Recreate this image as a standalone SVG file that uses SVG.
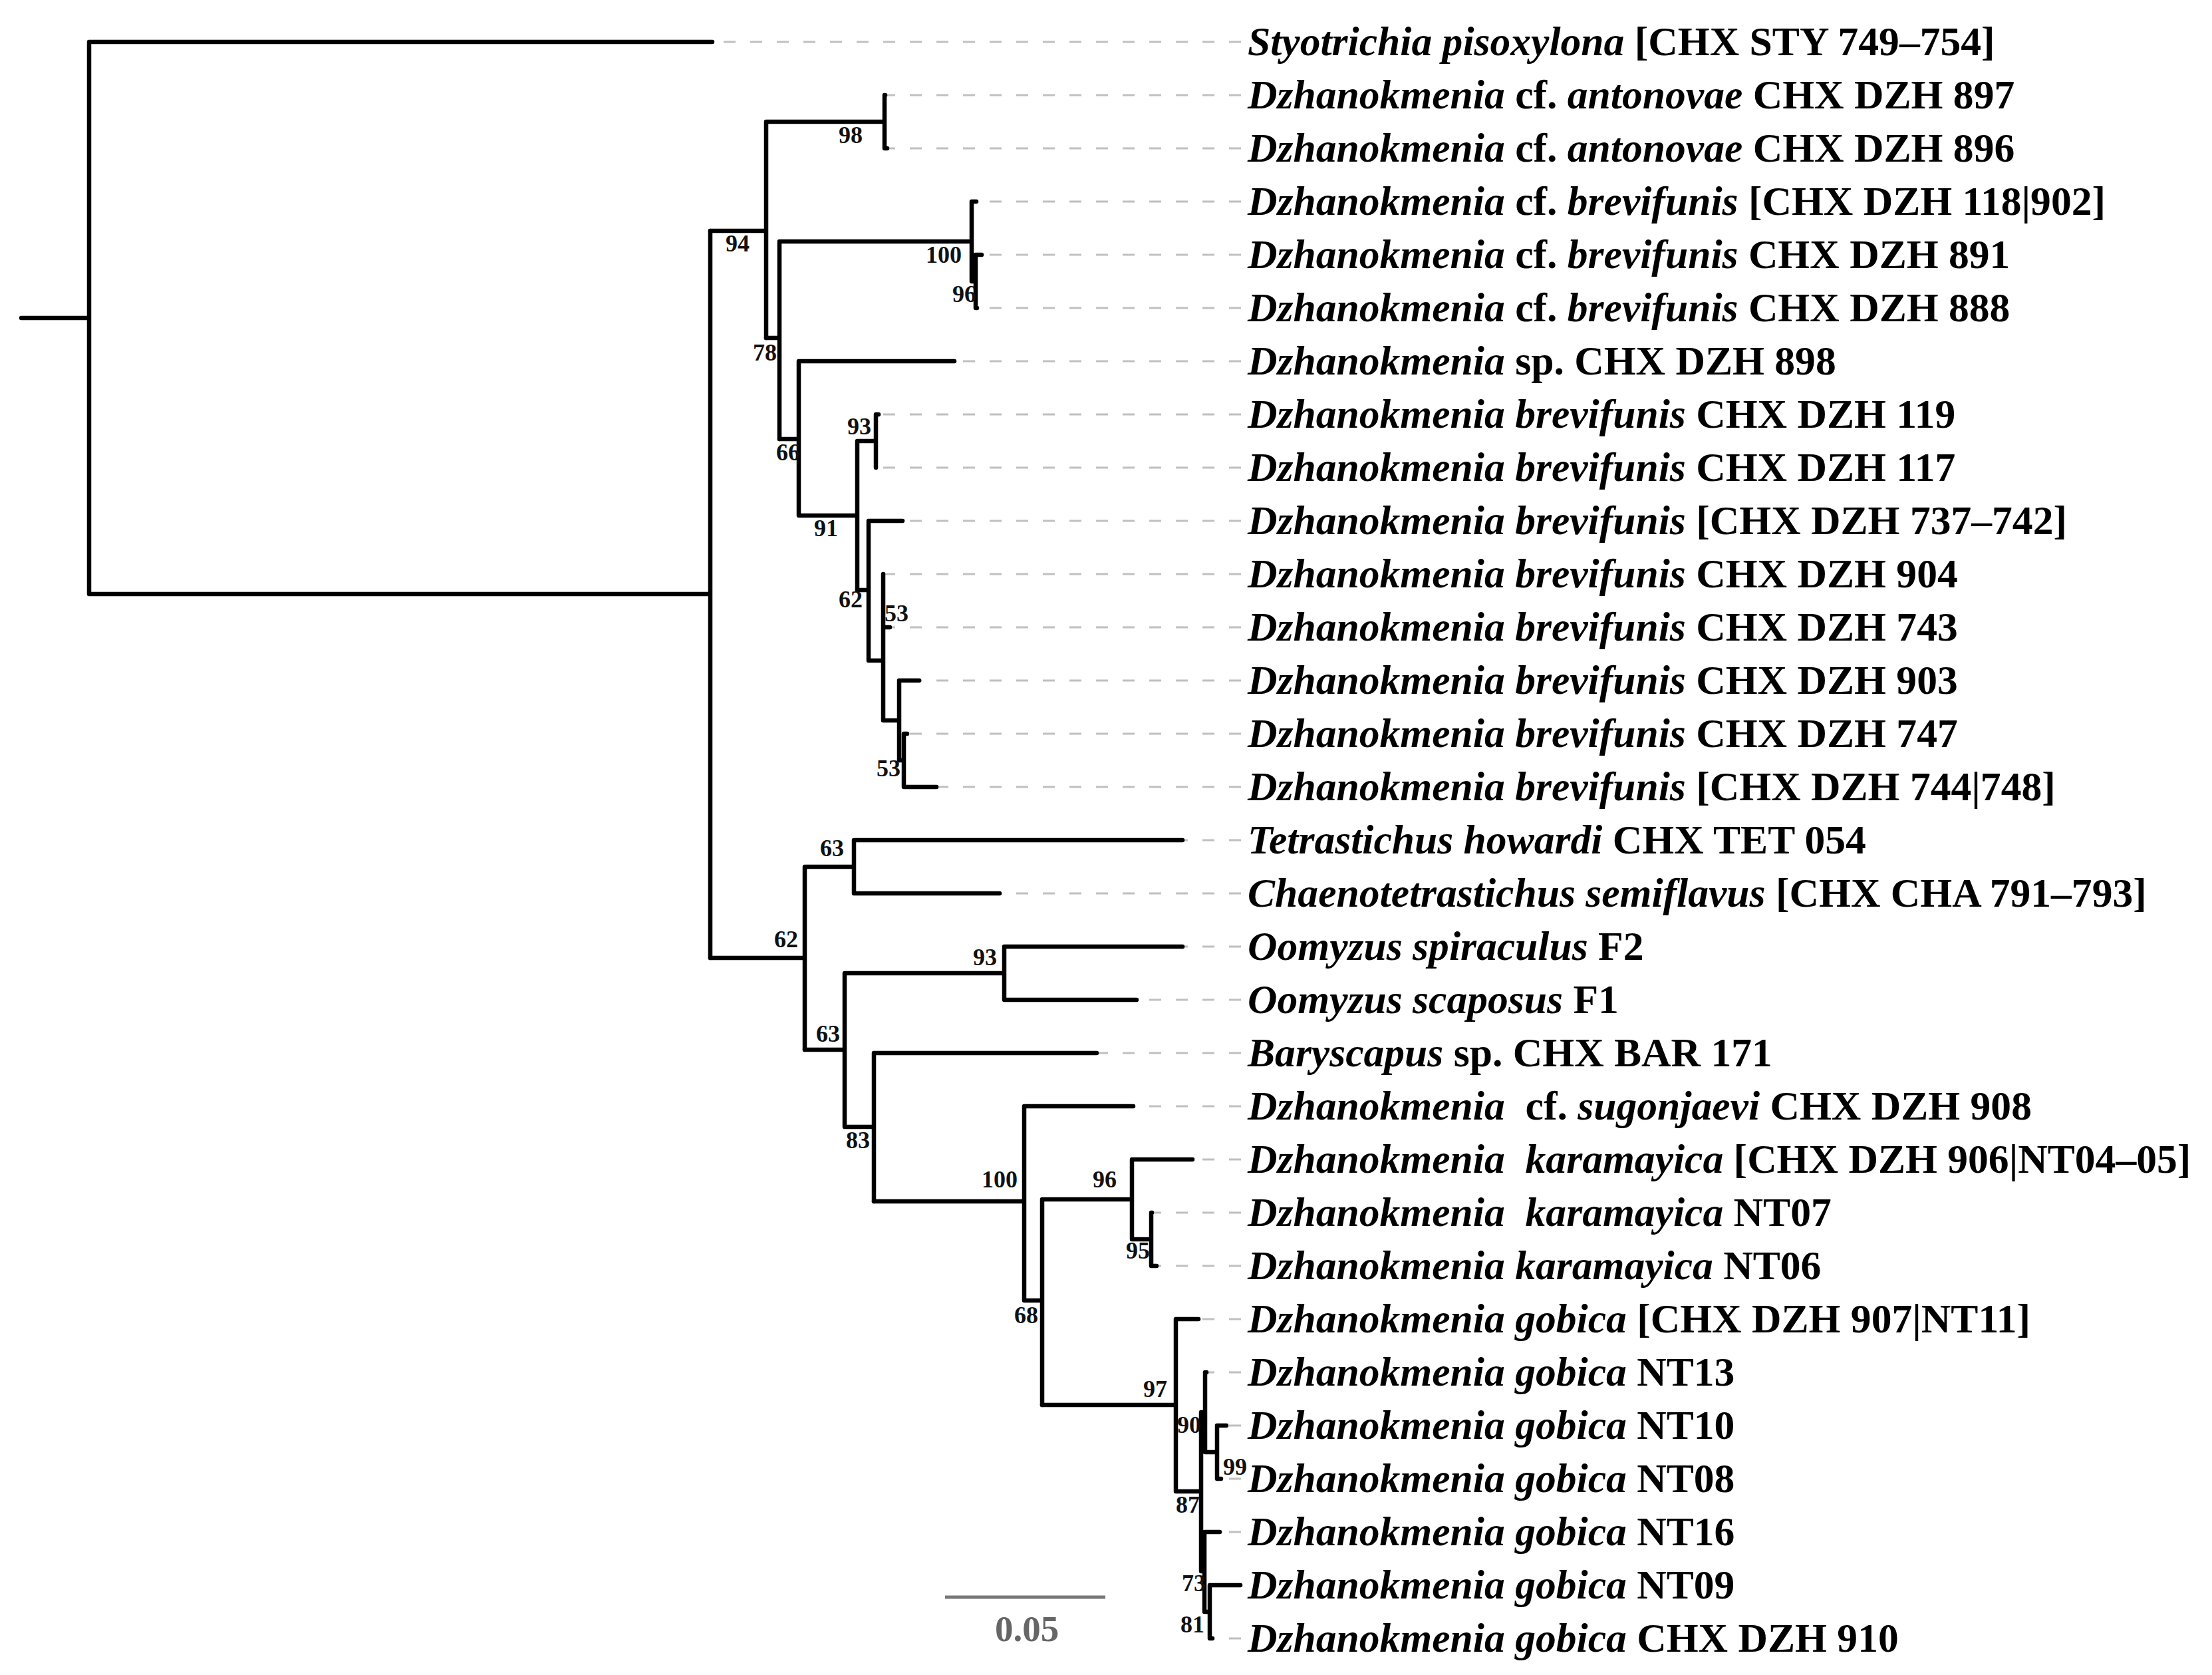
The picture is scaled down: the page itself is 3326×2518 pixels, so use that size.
<svg xmlns="http://www.w3.org/2000/svg" width="3326" height="2518" viewBox="0 0 3326 2518">
<style>
.br{fill:none;stroke:#000;stroke-width:6.5;stroke-linecap:round;stroke-linejoin:miter}
.dl{fill:none;stroke:#c0c0c0;stroke-width:3.2;stroke-dasharray:18 22}
.tl{font-family:"Liberation Serif","Times New Roman",serif;font-size:61.6px;font-weight:bold;fill:#000;white-space:pre}
.it{font-style:italic}
.bs{font-family:"Liberation Serif","Times New Roman",serif;font-size:36px;font-weight:bold;fill:#111;text-anchor:middle}
.sb{fill:none;stroke:#777;stroke-width:5}
.sbt{font-family:"Liberation Serif","Times New Roman",serif;font-size:55px;font-weight:bold;fill:#666;text-anchor:middle}
</style>
<rect width="3326" height="2518" fill="#fff"/>
<g id="guides">
<path class="dl" d="M1866 63H1071 M1866 143H1331 M1866 223H1334 M1866 303H1468 M1866 383H1476 M1866 463H1469 M1866 543H1435 M1866 623H1321 M1866 703H1317 M1866 783H1357 M1866 863H1329 M1866 943H1338 M1866 1023H1382 M1866 1103H1364 M1866 1183H1408 M1866 1263H1778 M1866 1343H1503 M1866 1423H1778 M1866 1503H1709 M1866 1583H1649 M1866 1663H1704 M1866 1743H1793 M1866 1823H1732 M1866 1903H1739 M1866 1983H1802 M1866 2063H1814 M1866 2143H1844 M1866 2223H1836 M1866 2303H1834 M1866 2383H1865 M1866 2463H1823"/>
</g>
<g id="branches">
<path class="br" d="M32 478H134 M134 63V893 M134 63H1071 M134 893H1068 M1068 347V1440"/>
<path class="br" d="M1068 347H1152 M1152 183V508 M1152 183H1330 M1330 143V223 M1330 143H1331 M1330 223H1334"/>
<path class="br" d="M1152 508H1172 M1172 363V660 M1172 363H1461 M1461 303V423 M1461 303H1468 M1461 423H1467 M1467 383V463 M1467 383H1476 M1467 463H1469"/>
<path class="br" d="M1172 660H1201 M1201 543V775 M1201 543H1435 M1201 775H1289 M1289 663V887 M1289 663H1317 M1317 623V703 M1317 623H1321"/>
<path class="br" d="M1289 887H1306 M1306 783V993 M1306 783H1357 M1306 993H1328 M1328 863V1083 M1328 943H1338 M1328 1083H1352 M1352 1023V1143 M1352 1023H1382 M1352 1143H1359 M1359 1103V1183 M1359 1103H1364 M1359 1183H1408"/>
<path class="br" d="M1068 1440H1210 M1210 1303V1578 M1210 1303H1284 M1284 1263V1343 M1284 1263H1778 M1284 1343H1503"/>
<path class="br" d="M1210 1578H1270 M1270 1463V1694 M1270 1463H1510 M1510 1423V1503 M1510 1423H1778 M1510 1503H1709 M1270 1694H1314 M1314 1583V1806 M1314 1583H1649"/>
<path class="br" d="M1314 1806H1540 M1540 1663V1955 M1540 1663H1704 M1540 1955H1567 M1567 1803V2112 M1567 1803H1702 M1702 1743V1863 M1702 1743H1793 M1702 1863H1731 M1731 1823V1903 M1731 1823H1732 M1731 1903H1739"/>
<path class="br" d="M1567 2112H1768 M1768 1983V2242 M1768 1983H1802 M1768 2242H1806 M1806 2123V2362 M1806 2123H1812 M1812 2063V2183 M1812 2063H1814 M1812 2183H1830 M1830 2143V2223 M1830 2143H1844 M1830 2223H1836 M1806 2362H1811 M1811 2303V2423 M1811 2303H1834 M1811 2423H1819 M1819 2383V2463 M1819 2383H1865 M1819 2463H1823"/>
</g>
<g id="support">
<text class="bs" x="1279" y="215">98</text>
<text class="bs" x="1109" y="378">94</text>
<text class="bs" x="1419" y="395">100</text>
<text class="bs" x="1450" y="454">96</text>
<text class="bs" x="1150" y="542">78</text>
<text class="bs" x="1185" y="692">66</text>
<text class="bs" x="1292" y="653">93</text>
<text class="bs" x="1242" y="806">91</text>
<text class="bs" x="1279" y="913">62</text>
<text class="bs" x="1348" y="934">53</text>
<text class="bs" x="1336" y="1167">53</text>
<text class="bs" x="1251" y="1287">63</text>
<text class="bs" x="1182" y="1424">62</text>
<text class="bs" x="1481" y="1451">93</text>
<text class="bs" x="1245" y="1566">63</text>
<text class="bs" x="1290" y="1726">83</text>
<text class="bs" x="1503" y="1785">100</text>
<text class="bs" x="1661" y="1785">96</text>
<text class="bs" x="1711" y="1892">95</text>
<text class="bs" x="1543" y="1989">68</text>
<text class="bs" x="1737" y="2100">97</text>
<text class="bs" x="1788" y="2154">90</text>
<text class="bs" x="1786" y="2274">87</text>
<text class="bs" x="1857" y="2217">99</text>
<text class="bs" x="1795" y="2392">73</text>
<text class="bs" x="1793" y="2454">81</text>
</g>
<g id="tip-0"><text class="tl" x="1876" y="83"><tspan class="it">Styotrichia pisoxylona</tspan> [CHX STY 749–754]</text></g>
<g id="tip-1"><text class="tl" x="1876" y="163"><tspan class="it">Dzhanokmenia</tspan> cf. <tspan class="it">antonovae</tspan> CHX DZH 897</text></g>
<g id="tip-2"><text class="tl" x="1876" y="243"><tspan class="it">Dzhanokmenia</tspan> cf. <tspan class="it">antonovae</tspan> CHX DZH 896</text></g>
<g id="tip-3"><text class="tl" x="1876" y="323"><tspan class="it">Dzhanokmenia</tspan> cf. <tspan class="it">brevifunis</tspan> [CHX DZH 118|902]</text></g>
<g id="tip-4"><text class="tl" x="1876" y="403"><tspan class="it">Dzhanokmenia</tspan> cf. <tspan class="it">brevifunis</tspan> CHX DZH 891</text></g>
<g id="tip-5"><text class="tl" x="1876" y="483"><tspan class="it">Dzhanokmenia</tspan> cf. <tspan class="it">brevifunis</tspan> CHX DZH 888</text></g>
<g id="tip-6"><text class="tl" x="1876" y="563"><tspan class="it">Dzhanokmenia</tspan> sp. CHX DZH 898</text></g>
<g id="tip-7"><text class="tl" x="1876" y="643"><tspan class="it">Dzhanokmenia brevifunis</tspan> CHX DZH 119</text></g>
<g id="tip-8"><text class="tl" x="1876" y="723"><tspan class="it">Dzhanokmenia brevifunis</tspan> CHX DZH 117</text></g>
<g id="tip-9"><text class="tl" x="1876" y="803"><tspan class="it">Dzhanokmenia brevifunis</tspan> [CHX DZH 737–742]</text></g>
<g id="tip-10"><text class="tl" x="1876" y="883"><tspan class="it">Dzhanokmenia brevifunis</tspan> CHX DZH 904</text></g>
<g id="tip-11"><text class="tl" x="1876" y="963"><tspan class="it">Dzhanokmenia brevifunis</tspan> CHX DZH 743</text></g>
<g id="tip-12"><text class="tl" x="1876" y="1043"><tspan class="it">Dzhanokmenia brevifunis</tspan> CHX DZH 903</text></g>
<g id="tip-13"><text class="tl" x="1876" y="1123"><tspan class="it">Dzhanokmenia brevifunis</tspan> CHX DZH 747</text></g>
<g id="tip-14"><text class="tl" x="1876" y="1203"><tspan class="it">Dzhanokmenia brevifunis</tspan> [CHX DZH 744|748]</text></g>
<g id="tip-15"><text class="tl" x="1876" y="1283"><tspan class="it">Tetrastichus howardi</tspan> CHX TET 054</text></g>
<g id="tip-16"><text class="tl" x="1876" y="1363"><tspan class="it">Chaenotetrastichus semiflavus</tspan> [CHX CHA 791–793]</text></g>
<g id="tip-17"><text class="tl" x="1876" y="1443"><tspan class="it">Oomyzus spiraculus</tspan> F2</text></g>
<g id="tip-18"><text class="tl" x="1876" y="1523"><tspan class="it">Oomyzus scaposus</tspan> F1</text></g>
<g id="tip-19"><text class="tl" x="1876" y="1603"><tspan class="it">Baryscapus</tspan> sp. CHX BAR 171</text></g>
<g id="tip-20"><text class="tl" x="1876" y="1683"><tspan class="it">Dzhanokmenia</tspan>  cf. <tspan class="it">sugonjaevi</tspan> CHX DZH 908</text></g>
<g id="tip-21"><text class="tl" x="1876" y="1763"><tspan class="it">Dzhanokmenia  karamayica</tspan> [CHX DZH 906|NT04–05]</text></g>
<g id="tip-22"><text class="tl" x="1876" y="1843"><tspan class="it">Dzhanokmenia  karamayica</tspan> NT07</text></g>
<g id="tip-23"><text class="tl" x="1876" y="1923"><tspan class="it">Dzhanokmenia karamayica</tspan> NT06</text></g>
<g id="tip-24"><text class="tl" x="1876" y="2003"><tspan class="it">Dzhanokmenia gobica</tspan> [CHX DZH 907|NT11]</text></g>
<g id="tip-25"><text class="tl" x="1876" y="2083"><tspan class="it">Dzhanokmenia gobica</tspan> NT13</text></g>
<g id="tip-26"><text class="tl" x="1876" y="2163"><tspan class="it">Dzhanokmenia gobica</tspan> NT10</text></g>
<g id="tip-27"><text class="tl" x="1876" y="2243"><tspan class="it">Dzhanokmenia gobica</tspan> NT08</text></g>
<g id="tip-28"><text class="tl" x="1876" y="2323"><tspan class="it">Dzhanokmenia gobica</tspan> NT16</text></g>
<g id="tip-29"><text class="tl" x="1876" y="2403"><tspan class="it">Dzhanokmenia gobica</tspan> NT09</text></g>
<g id="tip-30"><text class="tl" x="1876" y="2483"><tspan class="it">Dzhanokmenia gobica</tspan> CHX DZH 910</text></g>
<g id="scale-bar">
<path class="sb" d="M1421 2401H1662"/>
<text class="sbt" x="1544" y="2467">0.05</text>
</g>
</svg>
